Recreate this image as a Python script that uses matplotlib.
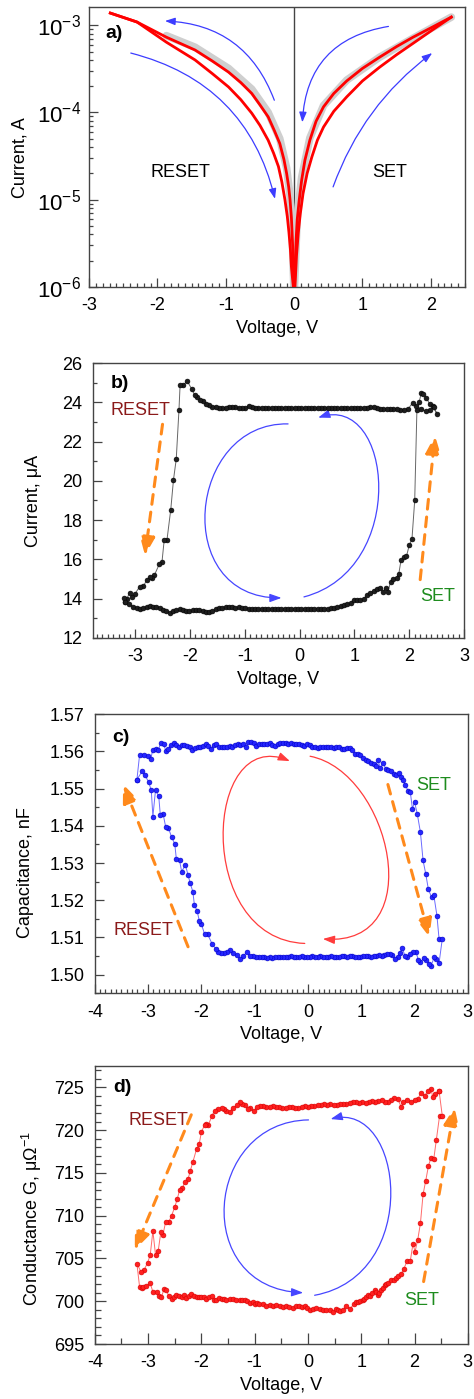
import numpy as np
import matplotlib
matplotlib.use("Agg")
import matplotlib.pyplot as plt
from matplotlib.path import Path
from matplotlib.patches import FancyArrowPatch
from matplotlib.ticker import MultipleLocator, LogLocator, NullFormatter, FormatStrFormatter

plt.rcParams['font.family'] = ['Liberation Sans', 'DejaVu Sans']
plt.rcParams['mathtext.fontset'] = 'custom'
plt.rcParams['mathtext.rm'] = 'Liberation Sans'
plt.rcParams['mathtext.it'] = 'Liberation Sans:italic'
plt.rcParams['axes.unicode_minus'] = False

# ---------------- panel a data (V, I) ----------------
a_reset_hi = [(-2.69, 1.38e-3), (-2.30, 1.09e-3), (-1.87, 7.3e-4), (-1.45, 5.2e-4), (-1.20, 3.9e-4),
              (-0.96, 2.9e-4), (-0.78, 2.2e-4), (-0.62, 1.65e-4), (-0.50, 1.22e-4), (-0.38, 8.9e-5),
              (-0.29, 6.2e-5), (-0.21, 4.4e-5), (-0.15, 2.9e-5), (-0.11, 2.0e-5), (-0.08, 1.4e-5),
              (-0.06, 1.0e-5), (-0.04, 6.2e-6), (-0.03, 4.2e-6), (-0.015, 2.2e-6), (-0.005, 1.0e-6)]
a_reset_lo = [(-2.69, 1.38e-3), (-2.30, 1.09e-3), (-1.87, 6.4e-4), (-1.45, 4.0e-4), (-1.20, 2.8e-4),
              (-0.96, 1.96e-4), (-0.78, 1.40e-4), (-0.62, 9.8e-5), (-0.50, 7.1e-5), (-0.38, 4.8e-5),
              (-0.30, 3.4e-5), (-0.23, 2.4e-5), (-0.18, 1.6e-5), (-0.135, 1.0e-5), (-0.10, 6.4e-6),
              (-0.076, 4.2e-6), (-0.055, 2.7e-6), (-0.04, 1.7e-6), (-0.012, 1.0e-6)]
a_set_hi = [(0.005, 1.0e-6), (0.017, 2.0e-6), (0.030, 3.6e-6), (0.045, 5.9e-6), (0.075, 1.0e-5),
            (0.11, 1.67e-5), (0.158, 2.84e-5), (0.23, 4.8e-5), (0.32, 7.9e-5), (0.43, 1.16e-4),
            (0.58, 1.65e-4), (0.77, 2.3e-4), (1.00, 3.2e-4), (1.25, 4.3e-4), (1.50, 5.7e-4),
            (1.74, 7.3e-4), (2.02, 9.5e-4), (2.30, 1.24e-3)]
a_set_lo = [(0.012, 1.0e-6), (0.035, 2.3e-6), (0.06, 4.1e-6), (0.09, 6.9e-6), (0.13, 1.17e-5),
            (0.19, 2.0e-5), (0.26, 3.1e-5), (0.34, 4.8e-5), (0.43, 6.8e-5), (0.58, 1.03e-4),
            (0.77, 1.51e-4), (1.00, 2.3e-4), (1.25, 3.3e-4), (1.50, 4.6e-4), (1.74, 6.2e-4),
            (2.02, 8.8e-4), (2.30, 1.24e-3)]
a_gray_left = [(-1.87, 7.6e-4), (-1.45, 5.6e-4), (-0.96, 3.2e-4), (-0.62, 1.85e-4), (-0.38, 1.0e-4),
               (-0.21, 5.0e-5), (-0.11, 2.3e-5), (-0.06, 1.1e-5), (-0.03, 4.6e-6), (-0.005, 1.0e-6)]
a_gray_right = [(0.005, 1.0e-6), (0.045, 6.3e-6), (0.11, 1.8e-5), (0.23, 5.1e-5), (0.43, 1.2e-4),
                (0.77, 2.35e-4), (1.25, 4.3e-4), (1.74, 7.1e-4), (2.30, 1.24e-3)]
# blue guide arrows: (start, end, rad)
a_arrows = [((-0.29, 1.38e-4), (-1.89, 1.12e-3), 0.33),
            ((-2.39, 4.8e-4), (-0.28, 1.02e-5), -0.30),
            ((1.38, 9.7e-4), (0.12, 7.7e-5), 0.40),
            ((0.57, 1.4e-5), (2.02, 4.8e-4), -0.15)]

# ---------------- panel b data (V, I in uA), loop order ----------------
b_bottom = [(-3.19, 13.83), (-3.12, 13.75), (-3.04, 13.58), (-2.97, 13.55), (-2.91, 13.48), (-2.85, 13.50),
            (-2.79, 13.60), (-2.73, 13.62), (-2.67, 13.58), (-2.61, 13.60), (-2.55, 13.50), (-2.49, 13.42),
            (-2.43, 13.35), (-2.37, 13.27), (-2.31, 13.35), (-2.25, 13.44), (-2.19, 13.45), (-2.13, 13.42),
            (-2.07, 13.36), (-2.01, 13.38), (-1.95, 13.41), (-1.89, 13.44), (-1.83, 13.42), (-1.77, 13.35),
            (-1.71, 13.32), (-1.65, 13.33), (-1.59, 13.35), (-1.53, 13.45), (-1.47, 13.53), (-1.41, 13.55),
            (-1.35, 13.57), (-1.29, 13.58), (-1.23, 13.57), (-1.17, 13.55), (-1.11, 13.56), (-1.05, 13.53),
            (-0.99, 13.50), (-0.93, 13.48), (-0.87, 13.47), (-0.81, 13.48), (-0.75, 13.47), (-0.69, 13.47),
            (-0.63, 13.48), (-0.57, 13.47), (-0.51, 13.47), (-0.45, 13.48), (-0.39, 13.47), (-0.33, 13.47),
            (-0.27, 13.48), (-0.21, 13.47), (-0.15, 13.47), (-0.09, 13.47), (-0.03, 13.47), (0.03, 13.47),
            (0.09, 13.47), (0.15, 13.47), (0.21, 13.47), (0.27, 13.47), (0.33, 13.47), (0.39, 13.48),
            (0.45, 13.48), (0.51, 13.49), (0.57, 13.50), (0.63, 13.53), (0.69, 13.58), (0.75, 13.62),
            (0.81, 13.67), (0.87, 13.72), (0.93, 13.78), (0.99, 13.95), (1.05, 13.92), (1.11, 13.93),
            (1.17, 14.00), (1.23, 14.18), (1.29, 14.30), (1.35, 14.40), (1.41, 14.50), (1.47, 14.56),
            (1.52, 14.34), (1.57, 14.56), (1.61, 14.34), (1.66, 14.85), (1.71, 15.02), (1.77, 15.07),
            (1.81, 15.27), (1.85, 15.95), (1.90, 16.12), (1.95, 16.16), (2.00, 16.72), (2.05, 17.04),
            (2.10, 19.00), (2.14, 23.60), (2.18, 24.00), (2.22, 24.47), (2.26, 24.44), (2.31, 24.24),
            (2.37, 23.93), (2.43, 23.80), (2.51, 23.39)]
b_top = [(2.45, 23.75), (2.37, 23.60), (2.30, 23.54), (2.22, 23.67), (2.13, 23.80), (2.06, 23.96),
         (1.98, 23.67), (1.90, 23.60), (1.83, 23.62), (1.77, 23.68), (1.71, 23.67), (1.65, 23.66),
         (1.59, 23.67), (1.53, 23.68), (1.47, 23.68), (1.41, 23.72), (1.35, 23.77), (1.29, 23.74),
         (1.23, 23.72), (1.17, 23.71), (1.11, 23.70), (1.05, 23.71), (0.99, 23.70), (0.93, 23.70),
         (0.87, 23.71), (0.81, 23.70), (0.75, 23.70), (0.69, 23.70), (0.63, 23.71), (0.57, 23.70),
         (0.51, 23.70), (0.45, 23.70), (0.39, 23.70), (0.33, 23.71), (0.27, 23.70), (0.21, 23.70),
         (0.15, 23.70), (0.09, 23.70), (0.03, 23.70), (-0.03, 23.70), (-0.09, 23.70), (-0.15, 23.70),
         (-0.21, 23.70), (-0.27, 23.71), (-0.33, 23.70), (-0.39, 23.70), (-0.45, 23.71), (-0.51, 23.70),
         (-0.57, 23.70), (-0.63, 23.71), (-0.69, 23.70), (-0.75, 23.71), (-0.81, 23.72), (-0.87, 23.74),
         (-0.93, 23.80), (-0.99, 23.72), (-1.05, 23.70), (-1.11, 23.71), (-1.17, 23.75), (-1.23, 23.77),
         (-1.29, 23.78), (-1.35, 23.72), (-1.41, 23.70), (-1.47, 23.72), (-1.53, 23.78), (-1.59, 23.76),
         (-1.65, 23.85), (-1.71, 23.92), (-1.77, 24.05), (-1.82, 24.10), (-1.87, 24.25), (-1.91, 24.35),
         (-1.97, 24.69), (-2.05, 25.08), (-2.13, 24.86), (-2.18, 24.86), (-2.20, 23.62), (-2.25, 21.10),
         (-2.30, 20.06), (-2.35, 18.53), (-2.42, 16.97), (-2.47, 16.97), (-2.51, 15.87), (-2.56, 15.75),
         (-2.65, 15.19), (-2.70, 15.05), (-2.73, 15.10), (-2.79, 14.94), (-2.85, 14.63), (-2.92, 14.60),
         (-3.00, 14.26), (-3.06, 14.09), (-3.10, 14.31), (-3.15, 14.00), (-3.21, 14.05), (-3.19, 13.83)]
b_loop_arrows = [[(-0.21, 22.90), (-2.05, 23.00), (-2.35, 14.00), (-0.33, 14.04)],
                 [(0.08, 14.09), (2.00, 15.50), (1.70, 24.50), (0.34, 23.22)]]
b_orange = [((-2.50, 22.88), (-2.82, 16.20)), ((2.20, 14.97), (2.47, 22.32))]
b_texts = [("RESET", -2.91, 23.59, '#8b1a1a'), ("SET", 2.51, 14.12, '#1e8c1e')]

# ---------------- panel c data (V, C in nF) ----------------
c_top = [(-3.21, 1.5524), (-3.16, 1.5590), (-3.08, 1.5589), (-3.00, 1.5587), (-2.95, 1.5580), (-2.91, 1.5605),
         (-2.86, 1.5606), (-2.81, 1.5603), (-2.76, 1.5623), (-2.71, 1.5619), (-2.66, 1.5600), (-2.62, 1.5606),
         (-2.57, 1.5618), (-2.52, 1.5623), (-2.47, 1.5617), (-2.42, 1.5613), (-2.37, 1.5618), (-2.32, 1.5616),
         (-2.27, 1.5614), (-2.22, 1.5612), (-2.17, 1.5603), (-2.12, 1.5610), (-2.07, 1.5611), (-2.02, 1.5612),
         (-1.97, 1.5614), (-1.92, 1.5621), (-1.87, 1.5614), (-1.82, 1.5607), (-1.77, 1.5618), (-1.72, 1.5619),
         (-1.67, 1.5612), (-1.62, 1.5611), (-1.57, 1.5613), (-1.52, 1.5611), (-1.47, 1.5614), (-1.42, 1.5613),
         (-1.37, 1.5618), (-1.32, 1.5620), (-1.27, 1.5617), (-1.22, 1.5621), (-1.17, 1.5613), (-1.12, 1.5624),
         (-1.07, 1.5626), (-1.02, 1.5623), (-0.97, 1.5614), (-0.92, 1.5619), (-0.87, 1.5620), (-0.82, 1.5621),
         (-0.77, 1.5620), (-0.72, 1.5622), (-0.67, 1.5618), (-0.62, 1.5614), (-0.57, 1.5619), (-0.52, 1.5623),
         (-0.47, 1.5622), (-0.42, 1.5623), (-0.37, 1.5621), (-0.32, 1.5623), (-0.27, 1.5620), (-0.22, 1.5621),
         (-0.17, 1.5619), (-0.12, 1.5617), (-0.07, 1.5614), (-0.02, 1.5621), (0.03, 1.5617), (0.08, 1.5612),
         (0.13, 1.5611), (0.18, 1.5610), (0.23, 1.5611), (0.28, 1.5612), (0.33, 1.5612), (0.38, 1.5613),
         (0.43, 1.5611), (0.48, 1.5610), (0.53, 1.5613), (0.58, 1.5611), (0.63, 1.5607), (0.68, 1.5606),
         (0.73, 1.5609), (0.78, 1.5610), (0.83, 1.5605), (0.88, 1.5594), (0.93, 1.5593), (0.98, 1.5590),
         (1.03, 1.5583), (1.08, 1.5576), (1.13, 1.5573), (1.18, 1.5570), (1.23, 1.5565), (1.28, 1.5561),
         (1.31, 1.5576), (1.36, 1.5556), (1.41, 1.5569), (1.46, 1.5553), (1.51, 1.5549), (1.56, 1.5547),
         (1.61, 1.5540), (1.66, 1.5537), (1.70, 1.5542), (1.74, 1.5531), (1.78, 1.5522), (1.83, 1.5509),
         (1.88, 1.5493), (1.92, 1.5491), (1.96, 1.5446), (2.00, 1.5464), (2.05, 1.5433), (2.11, 1.5383),
         (2.16, 1.5307), (2.21, 1.5271), (2.26, 1.5229), (2.32, 1.5208), (2.36, 1.5215), (2.42, 1.5159),
         (2.46, 1.5096), (2.52, 1.5096)]
c_bottom = [(2.46, 1.5031), (2.41, 1.5043), (2.37, 1.5047), (2.31, 1.5024), (2.27, 1.5030), (2.22, 1.5039),
            (2.17, 1.5045), (2.11, 1.5033), (2.07, 1.5040), (2.03, 1.5060), (1.97, 1.5060), (1.91, 1.5056),
            (1.86, 1.5048), (1.82, 1.5051), (1.77, 1.5071), (1.72, 1.5058), (1.69, 1.5047), (1.63, 1.5042),
            (1.58, 1.5054), (1.53, 1.5056), (1.48, 1.5056), (1.43, 1.5053), (1.38, 1.5051), (1.33, 1.5052),
            (1.28, 1.5049), (1.23, 1.5050), (1.18, 1.5048), (1.13, 1.5049), (1.08, 1.5050), (1.03, 1.5049),
            (0.98, 1.5047), (0.93, 1.5048), (0.88, 1.5047), (0.83, 1.5049), (0.78, 1.5049), (0.73, 1.5048),
            (0.68, 1.5049), (0.63, 1.5050), (0.58, 1.5048), (0.53, 1.5047), (0.48, 1.5048), (0.43, 1.5049),
            (0.38, 1.5048), (0.33, 1.5047), (0.28, 1.5048), (0.23, 1.5049), (0.18, 1.5048), (0.13, 1.5047),
            (0.08, 1.5049), (0.03, 1.5048), (-0.02, 1.5047), (-0.07, 1.5048), (-0.12, 1.5049), (-0.17, 1.5048),
            (-0.22, 1.5047), (-0.27, 1.5048), (-0.32, 1.5049), (-0.37, 1.5048), (-0.42, 1.5047), (-0.47, 1.5048),
            (-0.52, 1.5047), (-0.57, 1.5048), (-0.62, 1.5047), (-0.67, 1.5046), (-0.72, 1.5047), (-0.77, 1.5046),
            (-0.82, 1.5047), (-0.87, 1.5048), (-0.92, 1.5047), (-0.97, 1.5047), (-1.03, 1.5050), (-1.09, 1.5051),
            (-1.15, 1.5060), (-1.21, 1.5051), (-1.27, 1.5042), (-1.33, 1.5053), (-1.40, 1.5057), (-1.46, 1.5066),
            (-1.52, 1.5062), (-1.58, 1.5058), (-1.64, 1.5057), (-1.69, 1.5060), (-1.73, 1.5069), (-1.80, 1.5083),
            (-1.88, 1.5108), (-1.94, 1.5109), (-2.00, 1.5136), (-2.04, 1.5145), (-2.08, 1.5172), (-2.13, 1.5186),
            (-2.16, 1.5223), (-2.21, 1.5246), (-2.25, 1.5268), (-2.30, 1.5295), (-2.37, 1.5277), (-2.41, 1.5307),
            (-2.47, 1.5311), (-2.50, 1.5352), (-2.56, 1.5370), (-2.62, 1.5395), (-2.67, 1.5397), (-2.72, 1.5433),
            (-2.77, 1.5428), (-2.80, 1.5479), (-2.86, 1.5497), (-2.91, 1.5425), (-2.94, 1.5495), (-2.99, 1.5518),
            (-3.06, 1.5536), (-3.11, 1.5547), (-3.21, 1.5524)]
c_loop_arrows = [[(-0.06, 1.5084), (-2.15, 1.5095), (-1.95, 1.5672), (-0.34, 1.5574)],
                 [(0.04, 1.5587), (1.55, 1.5545), (2.30, 1.5075), (0.28, 1.5096)]]
c_orange = [((-2.25, 1.5075), (-3.47, 1.5512)), ((1.50, 1.5511), (2.28, 1.5101))]
c_texts = [("SET", 2.36, 1.5509, '#1e8c1e'), ("RESET", -3.09, 1.5118, '#8b1a1a')]

# ---------------- panel d data (V, G in uOhm^-1) ----------------
d_top = [(2.46, 724.6), (2.39, 724.2), (2.34, 723.9), (2.31, 724.8), (2.25, 724.6), (2.19, 724.0), (2.12, 724.4),
         (2.06, 723.6), (2.00, 723.5), (1.94, 723.3), (1.86, 723.5), (1.79, 723.3), (1.75, 722.7), (1.69, 723.6),
         (1.62, 723.8), (1.56, 723.5), (1.50, 723.3), (1.44, 723.3), (1.38, 723.5), (1.32, 723.4), (1.26, 723.3),
         (1.20, 723.4), (1.14, 723.3), (1.08, 723.2), (1.02, 723.3), (0.96, 723.2), (0.90, 723.3), (0.84, 723.3),
         (0.78, 723.2), (0.72, 723.1), (0.66, 723.1), (0.60, 723.1), (0.54, 723.0), (0.48, 723.0), (0.42, 723.1),
         (0.36, 723.0), (0.30, 723.1), (0.24, 722.9), (0.18, 722.9), (0.12, 722.8), (0.06, 722.8), (0.00, 722.7),
         (-0.06, 722.8), (-0.12, 722.7), (-0.18, 722.6), (-0.24, 722.6), (-0.30, 722.7), (-0.36, 722.7),
         (-0.42, 722.6), (-0.48, 722.6), (-0.54, 722.7), (-0.60, 722.7), (-0.66, 722.8), (-0.72, 722.7),
         (-0.78, 722.7), (-0.84, 722.8), (-0.90, 722.8), (-0.96, 722.7), (-1.02, 722.2), (-1.08, 722.6),
         (-1.13, 722.5), (-1.19, 722.9), (-1.24, 723.1), (-1.27, 723.3), (-1.34, 722.9), (-1.41, 722.6),
         (-1.47, 722.1), (-1.53, 722.3), (-1.58, 722.5), (-1.62, 722.6), (-1.69, 722.5), (-1.75, 722.3),
         (-1.80, 721.7), (-1.87, 720.6), (-1.91, 720.7), (-1.94, 720.6), (-2.00, 719.8), (-2.04, 718.4),
         (-2.09, 717.8), (-2.16, 716.3), (-2.21, 715.2), (-2.25, 714.3), (-2.31, 713.9), (-2.36, 713.2),
         (-2.41, 713.0), (-2.45, 712.0), (-2.50, 711.0), (-2.56, 710.0), (-2.61, 709.3), (-2.67, 709.3),
         (-2.72, 707.8), (-2.76, 708.1), (-2.81, 705.9), (-2.86, 705.4), (-2.91, 708.2), (-2.96, 705.4),
         (-3.01, 704.5), (-3.08, 703.6), (-3.13, 703.4), (-3.21, 704.4)]
d_bottom = [(-3.16, 701.7), (-3.12, 701.6), (-3.09, 701.7), (-3.03, 701.8), (-2.96, 702.1), (-2.91, 701.1),
            (-2.84, 701.1), (-2.79, 700.6), (-2.75, 700.5), (-2.70, 701.4), (-2.66, 701.3), (-2.61, 700.6),
            (-2.56, 700.3), (-2.51, 700.5), (-2.47, 700.7), (-2.42, 700.6), (-2.37, 700.5), (-2.32, 700.7),
            (-2.28, 700.4), (-2.23, 700.6), (-2.19, 700.8), (-2.14, 700.6), (-2.09, 700.5), (-2.05, 700.5),
            (-2.00, 700.5), (-1.95, 700.5), (-1.91, 700.3), (-1.86, 700.5), (-1.81, 700.6), (-1.77, 700.2),
            (-1.72, 700.1), (-1.67, 700.4), (-1.62, 700.3), (-1.57, 700.3), (-1.53, 700.2), (-1.47, 700.3),
            (-1.41, 700.3), (-1.35, 700.2), (-1.28, 700.1), (-1.23, 700.2), (-1.19, 700.1), (-1.14, 700.0),
            (-1.09, 699.8), (-1.04, 699.9), (-1.00, 699.7), (-0.95, 699.8), (-0.91, 699.7), (-0.85, 699.7),
            (-0.78, 699.5), (-0.72, 699.6), (-0.66, 699.5), (-0.60, 699.6), (-0.53, 699.5), (-0.47, 699.3),
            (-0.41, 699.4), (-0.35, 699.3), (-0.28, 699.2), (-0.22, 699.4), (-0.16, 699.4), (-0.11, 699.3),
            (-0.06, 699.5), (-0.01, 699.2), (0.03, 699.0), (0.09, 699.1), (0.16, 699.2), (0.22, 699.1),
            (0.28, 699.0), (0.34, 699.0), (0.41, 699.0), (0.47, 698.8), (0.52, 699.1), (0.56, 699.0),
            (0.61, 698.9), (0.66, 699.0), (0.72, 699.4), (0.79, 699.1), (0.86, 699.7), (0.90, 699.9),
            (0.94, 699.9), (0.98, 700.0), (1.03, 700.1), (1.06, 700.3), (1.09, 700.5), (1.13, 700.7),
            (1.17, 700.6), (1.21, 701.0), (1.25, 701.3), (1.28, 701.1), (1.31, 700.7), (1.34, 701.0),
            (1.37, 701.3), (1.40, 701.5), (1.44, 701.9), (1.47, 702.0), (1.50, 702.1), (1.56, 702.5),
            (1.62, 702.5), (1.66, 702.7), (1.69, 702.9), (1.75, 703.2), (1.80, 703.8), (1.86, 704.7),
            (1.92, 704.7), (1.97, 706.7), (2.01, 705.8), (2.06, 707.2), (2.11, 709.1), (2.16, 712.5),
            (2.21, 714.1), (2.26, 715.8), (2.31, 716.8), (2.36, 716.6), (2.41, 718.9), (2.47, 721.7),
            (2.52, 721.7), (2.46, 724.6)]
d_loop_arrows = [[(0.01, 721.2), (-1.95, 721.0), (-2.20, 701.5), (-0.09, 701.0)],
                 [(0.125, 700.7), (2.15, 703.0), (1.80, 723.5), (0.425, 721.3)]]
d_orange = [((-2.19, 721.8), (-3.25, 706.0)), ((2.17, 702.3), (2.75, 722.7))]
d_texts = [("RESET", -2.81, 721.1, '#8b1a1a'), ("SET", 2.125, 700.05, '#1e8c1e')]

# ---------------- figure ----------------
FS = 13
fig = plt.figure(figsize=(4.74, 13.99), dpi=100)
axa = fig.add_axes([0.188, 0.795, 0.793, 0.200])
axb = fig.add_axes([0.196, 0.544, 0.783, 0.1965])
axc = fig.add_axes([0.200, 0.290, 0.787, 0.1995])
axd = fig.add_axes([0.200, 0.0393, 0.787, 0.1987])

spine_col = '#444444'


def style(ax, major=6.5, minor=3.2, ylab=(-0.15, 0.5)):
    for s in ax.spines.values():
        s.set_color(spine_col)
        s.set_linewidth(1.0)
    ax.tick_params(which='both', direction='in', top=False, right=False, labelsize=FS,
                   color=spine_col, width=0.9)
    ax.tick_params(which='major', length=major, pad=7.5)
    ax.tick_params(which='minor', length=minor)
    ax.xaxis.labelpad = 4
    ax.yaxis.set_label_coords(*ylab)


def xy(pairs):
    arr = np.array(pairs, dtype=float)
    return arr[:, 0], arr[:, 1]


def orange_arrow(ax, start, end):
    ax.annotate('', xy=end, xytext=start,
                arrowprops=dict(arrowstyle='-|>,head_length=1.1,head_width=0.45', color='#ff8a1c',
                                lw=2.2, linestyle=(0, (3.2, 2.6)), shrinkA=0, shrinkB=0,
                                mutation_scale=10))


def loop_arrow(ax, pts, color):
    path = Path(pts, [Path.MOVETO, Path.CURVE4, Path.CURVE4, Path.CURVE4])
    p = FancyArrowPatch(path=path, arrowstyle='-|>,head_length=0.7,head_width=0.25',
                        mutation_scale=10, color=color, lw=0.9, transform=ax.transData)
    ax.add_patch(p)


# ---- a ----
ax = axa
ax.set_yscale('log')
for pts in (a_gray_left, a_gray_right):
    x, y = xy(pts)
    ax.plot(x, y, color='#cfcfcf', lw=5.5, solid_capstyle='round', zorder=2)
for pts in (a_reset_hi, a_reset_lo, a_set_hi, a_set_lo):
    x, y = xy(pts)
    ax.plot(x, y, color='#ff0000', lw=2.0, zorder=3)
ax.axvline(0, color='#444444', lw=1.0, zorder=1)
for s, e, r in a_arrows:
    ax.annotate('', xy=e, xytext=s,
                arrowprops=dict(arrowstyle='-|>,head_length=0.6,head_width=0.22', color='#3c3cff',
                                lw=0.9, connectionstyle='arc3,rad=%g' % r, shrinkA=0, shrinkB=0,
                                mutation_scale=10))
ax.text(-1.67, 2.04e-5, 'RESET', fontsize=FS, ha='center', va='center')
ax.text(1.40, 2.04e-5, 'SET', fontsize=FS, ha='center', va='center')
ax.text(0.042, 0.905, 'a)', transform=ax.transAxes, fontsize=FS + 1, fontweight='bold', va='center')
ax.set_xlim(-3, 2.5)
ax.set_ylim(1e-6, 1.62e-3)
ax.xaxis.set_major_locator(MultipleLocator(1))
ax.xaxis.set_minor_locator(MultipleLocator(0.1))
ax.yaxis.set_major_locator(LogLocator(base=10, numticks=10))
ax.yaxis.set_minor_locator(LogLocator(base=10, subs=np.arange(2, 10), numticks=20))
ax.yaxis.set_minor_formatter(NullFormatter())
ax.set_xlabel('Voltage, V', fontsize=FS)
ax.set_ylabel('Current, A', fontsize=FS)
style(ax, ylab=(-0.16, 0.46))
ax.tick_params(axis='y', which='major', labelsize=16, pad=6)

# ---- b ----
ax = axb
x, y = xy(b_bottom + b_top)
ax.plot(x, y, '-', color='#666666', lw=0.7, zorder=2)
ax.plot(x, y, 'o', ms=3.5, mfc='#1e1e1e', mec='#000000', mew=0.4, zorder=3)
for pts in b_loop_arrows:
    loop_arrow(ax, pts, '#4646ff')
for s, e in b_orange:
    orange_arrow(ax, s, e)
for t, tx, ty, col in b_texts:
    ax.text(tx, ty, t, color=col, fontsize=FS, ha='center', va='center')
ax.text(0.048, 0.927, 'b)', transform=ax.transAxes, fontsize=FS + 1, fontweight='bold', va='center')
ax.set_xlim(-3.77, 3.0)
ax.set_ylim(12, 26)
ax.xaxis.set_major_locator(MultipleLocator(1))
ax.xaxis.set_minor_locator(MultipleLocator(0.1))
ax.yaxis.set_major_locator(MultipleLocator(2))
ax.yaxis.set_minor_locator(MultipleLocator(1))
ax.set_xlabel('Voltage, V', fontsize=FS)
ax.set_ylabel('Current, μA', fontsize=FS)
style(ax, ylab=(-0.137, 0.5))

# ---- c ----
ax = axc
x, y = xy(c_top + c_bottom)
ax.plot(x, y, '-', color='#6b6bff', lw=0.7, zorder=2)
ax.plot(x, y, 'o', ms=3.5, mfc='#2626ff', mec='#0000c8', mew=0.4, zorder=3)
for pts in c_loop_arrows:
    loop_arrow(ax, pts, '#ff3c3c')
for s, e in c_orange:
    orange_arrow(ax, s, e)
for t, tx, ty, col in c_texts:
    ax.text(tx, ty, t, color=col, fontsize=FS, ha='center', va='center')
ax.text(0.046, 0.916, 'c)', transform=ax.transAxes, fontsize=FS + 1, fontweight='bold', va='center')
ax.set_xlim(-4, 3)
ax.set_ylim(1.495, 1.57)
ax.xaxis.set_major_locator(MultipleLocator(1))
ax.xaxis.set_minor_locator(MultipleLocator(0.1))
ax.yaxis.set_major_locator(MultipleLocator(0.01))
ax.yaxis.set_minor_locator(MultipleLocator(0.005))
ax.yaxis.set_major_formatter(FormatStrFormatter('%.2f'))
ax.set_xlabel('Voltage, V', fontsize=FS)
ax.set_ylabel('Capacitance, nF', fontsize=FS)
style(ax, ylab=(-0.162, 0.434))

# ---- d ----
ax = axd
x, y = xy(d_top + d_bottom)
ax.plot(x, y, '-', color='#ff6a6a', lw=0.7, zorder=2)
ax.plot(x, y, 'o', ms=3.5, mfc='#ff2020', mec='#d80000', mew=0.4, zorder=3)
for pts in d_loop_arrows:
    loop_arrow(ax, pts, '#4646ff')
for s, e in d_orange:
    orange_arrow(ax, s, e)
for t, tx, ty, col in d_texts:
    ax.text(tx, ty, t, color=col, fontsize=FS, ha='center', va='center')
ax.text(0.049, 0.923, 'd)', transform=ax.transAxes, fontsize=FS + 1, fontweight='bold', va='center')
ax.set_xlim(-4, 3)
ax.set_ylim(695, 727.5)
ax.xaxis.set_major_locator(MultipleLocator(1))
ax.xaxis.set_minor_locator(MultipleLocator(0.5))
ax.yaxis.set_major_locator(MultipleLocator(5))
ax.yaxis.set_minor_locator(MultipleLocator(1))
ax.set_xlabel('Voltage, V', fontsize=FS)
ax.set_ylabel(r'Conductance G, μΩ$^{-1}$', fontsize=FS)
style(ax, major=8, minor=4.5, ylab=(-0.137, 0.45))

fig.savefig('out.png', dpi=100)
